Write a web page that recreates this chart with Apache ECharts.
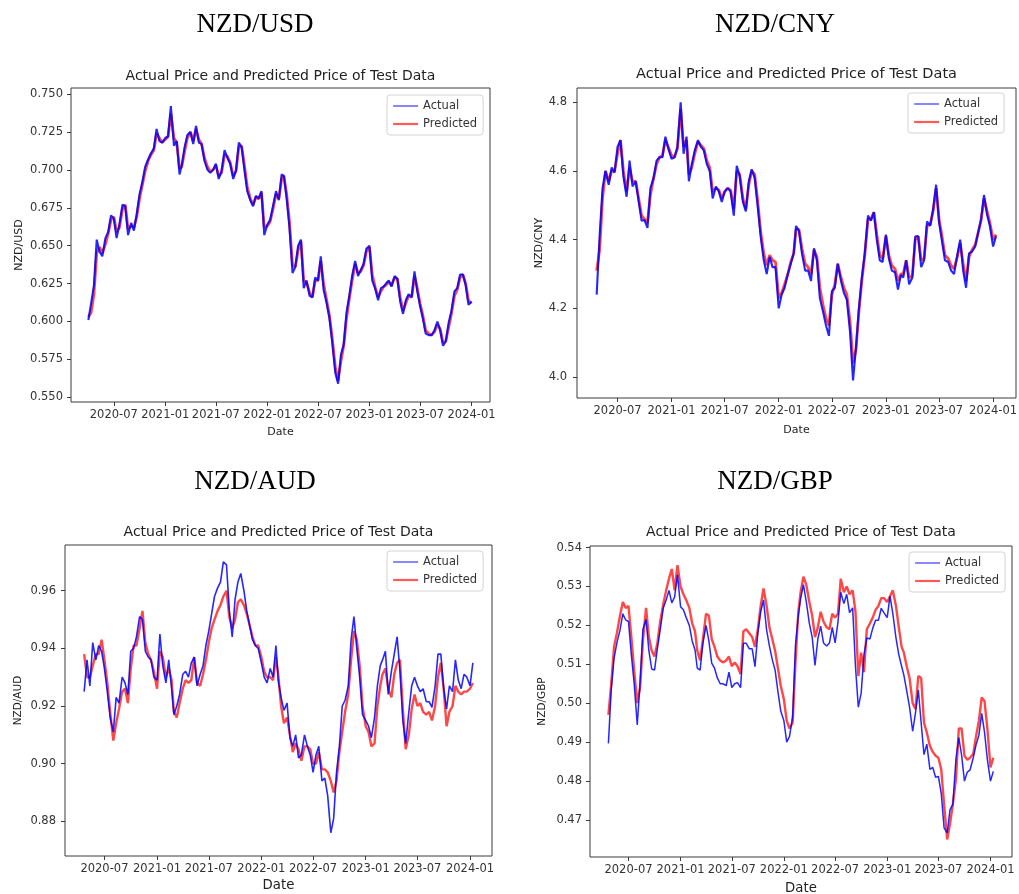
<!DOCTYPE html>
<html>
<head>
<meta charset="utf-8">
<title>NZD exchange rates - actual vs predicted</title>
<script src="https://cdn.jsdelivr.net/npm/echarts@6/dist/echarts.min.js"></script>
<style>
  html, body { margin: 0; padding: 0; background: #fff; }
  #chart { width: 1019px; height: 894px; }
</style>
</head>
<body>
<div id="chart"></div>
<script>
// sample dates (three per month), shared by all four panels
var dates = [
  '2020-04-01','2020-04-11','2020-04-21','2020-05-01','2020-05-11','2020-05-21','2020-06-01','2020-06-11','2020-06-21',
  '2020-07-01','2020-07-11','2020-07-21','2020-08-01','2020-08-11','2020-08-21','2020-09-01','2020-09-11','2020-09-21',
  '2020-10-01','2020-10-11','2020-10-21','2020-11-01','2020-11-11','2020-11-21','2020-12-01','2020-12-11','2020-12-21',
  '2021-01-01','2021-01-11','2021-01-21','2021-02-01','2021-02-11','2021-02-21','2021-03-01','2021-03-11','2021-03-21',
  '2021-04-01','2021-04-11','2021-04-21','2021-05-01','2021-05-11','2021-05-21','2021-06-01','2021-06-11','2021-06-21',
  '2021-07-01','2021-07-11','2021-07-21','2021-08-01','2021-08-11','2021-08-21','2021-09-01','2021-09-11','2021-09-21',
  '2021-10-01','2021-10-11','2021-10-21','2021-11-01','2021-11-11','2021-11-21','2021-12-01','2021-12-11','2021-12-21',
  '2022-01-01','2022-01-11','2022-01-21','2022-02-01','2022-02-11','2022-02-21','2022-03-01','2022-03-11','2022-03-21',
  '2022-04-01','2022-04-11','2022-04-21','2022-05-01','2022-05-11','2022-05-21','2022-06-01','2022-06-11','2022-06-21',
  '2022-07-01','2022-07-11','2022-07-21','2022-08-01','2022-08-11','2022-08-21','2022-09-01','2022-09-11','2022-09-21',
  '2022-10-01','2022-10-11','2022-10-21','2022-11-01','2022-11-11','2022-11-21','2022-12-01','2022-12-11','2022-12-21',
  '2023-01-01','2023-01-11','2023-01-21','2023-02-01','2023-02-11','2023-02-21','2023-03-01','2023-03-11','2023-03-21',
  '2023-04-01','2023-04-11','2023-04-21','2023-05-01','2023-05-11','2023-05-21','2023-06-01','2023-06-11','2023-06-21',
  '2023-07-01','2023-07-11','2023-07-21','2023-08-01','2023-08-11','2023-08-21','2023-09-01','2023-09-11','2023-09-21',
  '2023-10-01','2023-10-11','2023-10-21','2023-11-01','2023-11-11','2023-11-21','2023-12-01','2023-12-11','2023-12-21',
  '2024-01-01','2024-01-11'
];

var xTicks = ['2020-07-01','2021-01-01','2021-07-01','2022-01-01','2022-07-01','2023-01-01','2023-07-01','2024-01-01'];

// NZD/USD
var usdTicks = [0.550, 0.575, 0.600, 0.625, 0.650, 0.675, 0.700, 0.725, 0.750];
var usdActual = [
  0.601, 0.612, 0.624, 0.654, 0.646, 0.643, 0.655, 0.659, 0.670, 0.668,
  0.655, 0.664, 0.677, 0.676, 0.657, 0.665, 0.660, 0.671, 0.684, 0.692,
  0.702, 0.707, 0.711, 0.714, 0.727, 0.719, 0.718, 0.721, 0.722, 0.742,
  0.716, 0.719, 0.697, 0.703, 0.715, 0.723, 0.725, 0.717, 0.729, 0.718,
  0.717, 0.706, 0.700, 0.698, 0.700, 0.704, 0.694, 0.699, 0.713, 0.708,
  0.704, 0.694, 0.700, 0.718, 0.715, 0.700, 0.686, 0.680, 0.676, 0.683,
  0.681, 0.686, 0.657, 0.664, 0.667, 0.676, 0.686, 0.680, 0.697, 0.696,
  0.681, 0.662, 0.632, 0.636, 0.650, 0.654, 0.622, 0.627, 0.617, 0.616,
  0.629, 0.627, 0.643, 0.621, 0.612, 0.602, 0.586, 0.566, 0.559, 0.578,
  0.585, 0.606, 0.617, 0.631, 0.640, 0.630, 0.634, 0.638, 0.648, 0.650,
  0.627, 0.622, 0.614, 0.622, 0.623, 0.625, 0.627, 0.623, 0.630, 0.628,
  0.613, 0.605, 0.614, 0.618, 0.616, 0.633, 0.620, 0.610, 0.602, 0.592,
  0.591, 0.591, 0.594, 0.600, 0.594, 0.584, 0.587, 0.599, 0.607, 0.620,
  0.622, 0.631, 0.631, 0.624, 0.611, 0.613, null
];
var usdPredicted = [
  0.603, 0.606, 0.618, 0.645, 0.649, 0.645, 0.651, 0.658, 0.667, 0.669,
  0.659, 0.662, 0.674, 0.677, 0.661, 0.663, 0.662, 0.669, 0.681, 0.690,
  0.699, 0.706, 0.710, 0.713, 0.724, 0.721, 0.718, 0.720, 0.722, 0.737,
  0.721, 0.718, 0.701, 0.702, 0.712, 0.721, 0.725, 0.719, 0.727, 0.720,
  0.717, 0.708, 0.702, 0.699, 0.700, 0.703, 0.696, 0.698, 0.710, 0.709,
  0.705, 0.696, 0.699, 0.715, 0.716, 0.703, 0.689, 0.681, 0.677, 0.682,
  0.681, 0.685, 0.662, 0.663, 0.666, 0.674, 0.684, 0.681, 0.694, 0.696,
  0.684, 0.666, 0.637, 0.636, 0.647, 0.653, 0.627, 0.626, 0.619, 0.616,
  0.627, 0.627, 0.640, 0.625, 0.614, 0.604, 0.589, 0.570, 0.561, 0.574,
  0.584, 0.602, 0.615, 0.628, 0.638, 0.632, 0.633, 0.637, 0.646, 0.649,
  0.631, 0.623, 0.616, 0.620, 0.623, 0.624, 0.626, 0.624, 0.629, 0.628,
  0.616, 0.607, 0.612, 0.617, 0.616, 0.630, 0.622, 0.612, 0.604, 0.594,
  0.592, 0.591, 0.593, 0.598, 0.595, 0.586, 0.587, 0.596, 0.605, 0.617,
  0.621, 0.629, 0.631, 0.625, 0.614, 0.612, null
];

// NZD/CNY
var cnyTicks = [4.0, 4.2, 4.4, 4.6, 4.8];
var cnyActual = [
  null, null, 4.24, 4.41, 4.55, 4.60, 4.56, 4.61, 4.595, 4.67,
  4.69, 4.584, 4.525, 4.63, 4.555, 4.57, 4.511, 4.455, 4.457, 4.434,
  4.55, 4.58, 4.63, 4.64, 4.64, 4.70, 4.665, 4.635, 4.64, 4.67,
  4.80, 4.65, 4.70, 4.57, 4.62, 4.66, 4.69, 4.67, 4.66, 4.62,
  4.60, 4.52, 4.555, 4.54, 4.51, 4.54, 4.55, 4.54, 4.47, 4.615,
  4.585, 4.51, 4.482, 4.57, 4.605, 4.58, 4.50, 4.405, 4.34, 4.30,
  4.35, 4.32, 4.32, 4.20, 4.24, 4.26, 4.30, 4.33, 4.36, 4.44,
  4.425, 4.36, 4.31, 4.31, 4.28, 4.375, 4.34, 4.23, 4.19, 4.15,
  4.12, 4.25, 4.26, 4.33, 4.28, 4.245, 4.225, 4.13, 3.99, 4.085,
  4.20, 4.29, 4.36, 4.47, 4.455, 4.48, 4.40, 4.34, 4.335, 4.415,
  4.345, 4.31, 4.305, 4.255, 4.297, 4.29, 4.34, 4.27, 4.29, 4.41,
  4.41, 4.32, 4.34, 4.453, 4.44, 4.49, 4.56, 4.45, 4.395, 4.34,
  4.335, 4.31, 4.30, 4.355, 4.40, 4.31, 4.26, 4.36, 4.365, 4.38,
  4.42, 4.46, 4.53, 4.475, 4.44, 4.38, 4.41
];
var cnyPredicted = [
  null, null, 4.31, 4.37, 4.52, 4.60, 4.57, 4.60, 4.60, 4.65,
  4.69, 4.60, 4.54, 4.61, 4.57, 4.57, 4.52, 4.47, 4.46, 4.45,
  4.53, 4.58, 4.62, 4.64, 4.645, 4.69, 4.67, 4.645, 4.64, 4.665,
  4.78, 4.67, 4.69, 4.59, 4.61, 4.65, 4.685, 4.675, 4.665, 4.63,
  4.61, 4.54, 4.55, 4.545, 4.52, 4.54, 4.55, 4.545, 4.49, 4.60,
  4.59, 4.52, 4.49, 4.56, 4.60, 4.59, 4.515, 4.42, 4.36, 4.325,
  4.355, 4.34, 4.335, 4.23, 4.245, 4.27, 4.30, 4.335, 4.36, 4.43,
  4.43, 4.375, 4.33, 4.32, 4.30, 4.37, 4.35, 4.26, 4.21, 4.17,
  4.15, 4.24, 4.27, 4.33, 4.29, 4.26, 4.24, 4.16, 4.04, 4.08,
  4.19, 4.28, 4.355, 4.46, 4.46, 4.48, 4.415, 4.355, 4.345, 4.41,
  4.355, 4.325, 4.315, 4.28, 4.30, 4.30, 4.34, 4.29, 4.295, 4.40,
  4.41, 4.34, 4.345, 4.44, 4.445, 4.485, 4.55, 4.46, 4.41, 4.355,
  4.345, 4.325, 4.315, 4.35, 4.39, 4.33, 4.28, 4.35, 4.37, 4.385,
  4.42, 4.455, 4.52, 4.485, 4.45, 4.40, 4.415
];

// NZD/AUD
var audTicks = [0.88, 0.90, 0.92, 0.94, 0.96];
var audActual = [
  null, null, 0.925, 0.936, 0.927, 0.942, 0.936, 0.941, 0.939, 0.933,
  0.925, 0.916, 0.911, 0.923, 0.921, 0.930, 0.928, 0.924, 0.939, 0.940,
  0.944, 0.951, 0.950, 0.939, 0.937, 0.936, 0.930, 0.929, 0.945, 0.934,
  0.928, 0.936, 0.926, 0.917, 0.920, 0.924, 0.931, 0.932, 0.930, 0.935,
  0.937, 0.927, 0.931, 0.934, 0.941, 0.946, 0.952, 0.958, 0.961, 0.963,
  0.970, 0.969, 0.953, 0.944, 0.957, 0.963, 0.966, 0.960, 0.953, 0.948,
  0.943, 0.941, 0.940, 0.935, 0.930, 0.928, 0.933, 0.930, 0.941, 0.929,
  0.923, 0.9185, 0.921, 0.909, 0.906, 0.910, 0.902, 0.903, 0.910, 0.906,
  0.903, 0.897, 0.903, 0.906, 0.894, 0.895, 0.889, 0.876, 0.881, 0.897,
  0.906, 0.920, 0.922, 0.927, 0.943, 0.951, 0.940, 0.930, 0.917, 0.915,
  0.913, 0.909, 0.916, 0.927, 0.934, 0.936, 0.939, 0.924, 0.932, 0.938,
  0.944, 0.932, 0.915, 0.907, 0.918, 0.927, 0.930, 0.927, 0.925, 0.926,
  0.9215, 0.9215, 0.9195, 0.927, 0.938, 0.938, 0.926, 0.919, 0.927, 0.925,
  0.936, 0.929, 0.926, 0.931, 0.930, 0.927, 0.935
];
var audPredicted = [
  null, null, 0.938, 0.930, 0.930, 0.934, 0.938, 0.938, 0.943, 0.936,
  0.928, 0.918, 0.908, 0.914, 0.919, 0.925, 0.926, 0.921, 0.933, 0.941,
  0.941, 0.947, 0.953, 0.942, 0.938, 0.936, 0.932, 0.926, 0.939, 0.937,
  0.930, 0.933, 0.929, 0.918, 0.916, 0.921, 0.926, 0.929, 0.928, 0.929,
  0.937, 0.928, 0.927, 0.931, 0.936, 0.942, 0.947, 0.950, 0.953, 0.955,
  0.958, 0.960, 0.951, 0.947, 0.950, 0.956, 0.957, 0.955, 0.952, 0.948,
  0.944, 0.941, 0.941, 0.937, 0.932, 0.930, 0.930, 0.929, 0.937, 0.931,
  0.920, 0.914, 0.916, 0.910, 0.904, 0.907, 0.905, 0.901, 0.906, 0.906,
  0.905, 0.900, 0.900, 0.904, 0.898, 0.898, 0.897, 0.894, 0.890, 0.894,
  0.904, 0.911, 0.918, 0.924, 0.936, 0.946, 0.943, 0.934, 0.920, 0.913,
  0.911, 0.906, 0.907, 0.920, 0.927, 0.931, 0.933, 0.926, 0.923, 0.931,
  0.935, 0.936, 0.919, 0.905, 0.910, 0.919, 0.924, 0.920, 0.921, 0.918,
  0.917, 0.918, 0.915, 0.920, 0.930, 0.935, 0.926, 0.913, 0.918, 0.920,
  0.927, 0.925, 0.924, 0.925, 0.925, 0.926, 0.928
];

// NZD/GBP
var gbpTicks = [0.47, 0.48, 0.49, 0.50, 0.51, 0.52, 0.53, 0.54];
var gbpActual = [
  null, null, 0.4897, 0.5034, 0.5115, 0.5155, 0.5188, 0.523, 0.5214, 0.521,
  0.5125, 0.5051, 0.4944, 0.5055, 0.519, 0.5215, 0.5135, 0.5088, 0.5085, 0.514,
  0.5188, 0.5245, 0.5265, 0.529, 0.5258, 0.5273, 0.533, 0.5248, 0.524, 0.522,
  0.520, 0.516, 0.5137, 0.509, 0.5085, 0.5154, 0.520, 0.516, 0.5103, 0.509,
  0.5065, 0.505, 0.505, 0.5045, 0.508, 0.504, 0.505, 0.5053, 0.504, 0.5154,
  0.5154, 0.514, 0.514, 0.5094, 0.518, 0.5235, 0.5265, 0.5188, 0.5147, 0.5112,
  0.5085, 0.503, 0.498, 0.4955, 0.490, 0.4915, 0.4966, 0.515, 0.5225, 0.5268,
  0.5305, 0.5262, 0.5205, 0.517, 0.5097, 0.5165, 0.5198, 0.5155, 0.5147, 0.5155,
  0.5195, 0.5155, 0.5208, 0.5285, 0.5256, 0.528, 0.5233, 0.5245, 0.5094, 0.499,
  0.5026, 0.5125, 0.5168, 0.5165, 0.5193, 0.5213, 0.5213, 0.5244, 0.5232, 0.522,
  0.5275, 0.523, 0.5168, 0.5125, 0.5095, 0.5072, 0.5032, 0.499, 0.4928, 0.4975,
  0.5034, 0.495, 0.4868, 0.4895, 0.483, 0.4835, 0.481, 0.4812, 0.4768, 0.468,
  0.4667, 0.4727, 0.474, 0.4858, 0.4912, 0.4866, 0.480, 0.4823, 0.4829, 0.486,
  0.4893, 0.4918, 0.4974, 0.4925, 0.4855, 0.480, 0.4825
];
var gbpPredicted = [
  null, null, 0.497, 0.505, 0.5145, 0.518, 0.5225, 0.526, 0.5245, 0.525,
  0.517, 0.5085, 0.500, 0.504, 0.516, 0.5245, 0.517, 0.5135, 0.512, 0.5155,
  0.521, 0.5255, 0.529, 0.532, 0.5345, 0.529, 0.5355, 0.530, 0.528, 0.5265,
  0.5245, 0.5205, 0.5185, 0.5135, 0.511, 0.5165, 0.523, 0.5225, 0.5165, 0.5145,
  0.512, 0.511, 0.5105, 0.511, 0.512, 0.5095, 0.5105, 0.5095, 0.5075, 0.5185,
  0.519, 0.518, 0.517, 0.5145, 0.519, 0.525, 0.5295, 0.525, 0.5195, 0.5165,
  0.5135, 0.509, 0.5045, 0.501, 0.4955, 0.4935, 0.495, 0.5105, 0.5235, 0.5285,
  0.5325, 0.5305, 0.526, 0.5225, 0.517, 0.5195, 0.5235, 0.521, 0.5195, 0.519,
  0.523, 0.522, 0.523, 0.532, 0.5285, 0.530, 0.528, 0.529, 0.5235, 0.507,
  0.513, 0.508, 0.519, 0.5205, 0.522, 0.524, 0.525, 0.527, 0.527, 0.526,
  0.5275, 0.529, 0.525, 0.5195, 0.5145, 0.513, 0.5095, 0.5065, 0.500, 0.4985,
  0.507, 0.5065, 0.495, 0.4925, 0.489, 0.4875, 0.4865, 0.486, 0.483, 0.474,
  0.465, 0.469, 0.474, 0.4805, 0.4935, 0.4935, 0.4865, 0.4855, 0.486, 0.487,
  0.4915, 0.4955, 0.5015, 0.5005, 0.4935, 0.4835, 0.486
];

var FONT = '"DejaVu Sans", sans-serif';
var parseDate = echarts.number.parseDate;

function ts(s) { return parseDate(s).getTime(); }

// [time, value] pairs for one series, skipping days without a value
function toPairs(vals) {
    var out = [];
    for (var k = 0; k < dates.length; k++) {
        if (vals[k] != null) out.push([ts(dates[k]), vals[k]]);
    }
    return out;
}

function fmtMonth(v) {
    var d = new Date(v);
    var m = d.getMonth() + 1;
    return d.getFullYear() + '-' + (m < 10 ? '0' + m : m);
}

var xTickValues = xTicks.map(ts);

var panels = [
    {name: 'NZD/USD', actual: usdActual, predicted: usdPredicted, ticks: usdTicks, digits: 3,
     grid: {left: 71, top: 88, width: 419, height: 314},
     xMin: '2020-01-30', xMax: '2024-03-07', yMin: 0.5469, yMax: 0.7540,
     head: [255, 25], sub: [280.5, 76], subSize: 14, legend: {left: 387, top: 95},
     yNameGap: 46, yNameSize: 11, yLabelMargin: 8, dateGap: 25, dateSize: 11,
     wA: 2.1, wP: 2.8},
    {name: 'NZD/CNY', actual: cnyActual, predicted: cnyPredicted, ticks: cnyTicks, digits: 1,
     grid: {left: 577, top: 88, width: 439, height: 310},
     xMin: '2020-02-14', xMax: '2024-03-19', yMin: 3.939, yMax: 4.8416,
     head: [775, 25], sub: [796.5, 74], subSize: 14.5, legend: {left: 908, top: 93},
     yNameGap: 31, yNameSize: 11, yLabelMargin: 10, dateGap: 27, dateSize: 11,
     wA: 2.1, wP: 2.8},
    {name: 'NZD/AUD', actual: audActual, predicted: audPredicted, ticks: audTicks, digits: 2,
     grid: {left: 65, top: 545, width: 427, height: 311},
     xMin: '2020-02-14', xMax: '2024-03-18', yMin: 0.86795, yMax: 0.97587,
     head: [255, 482], sub: [278.5, 532.5], subSize: 14, legend: {left: 387, top: 551},
     yNameGap: 41, yNameSize: 10.5, yLabelMargin: 9, dateGap: 23, dateSize: 13.3,
     wA: 1.6, wP: 2.4},
    {name: 'NZD/GBP', actual: gbpActual, predicted: gbpPredicted, ticks: gbpTicks, digits: 2,
     grid: {left: 590, top: 546, width: 422, height: 311},
     xMin: '2020-02-16', xMax: '2024-03-17', yMin: 0.4605, yMax: 0.5404,
     head: [775, 482], sub: [801, 532.5], subSize: 14, legend: {left: 909, top: 552},
     yNameGap: 42, yNameSize: 10.5, yLabelMargin: 8, dateGap: 25, dateSize: 13.3,
     wA: 1.5, wP: 2.4}
];

var grids = [], xAxes = [], yAxes = [], series = [], legends = [], texts = [];

panels.forEach(function (p, k) {
    grids.push({
        left: p.grid.left, top: p.grid.top, width: p.grid.width, height: p.grid.height,
        show: true, borderColor: '#3a3a3a', borderWidth: 1, outerBoundsMode: 'none'
    });
    xAxes.push({
        type: 'value', gridIndex: k, min: ts(p.xMin), max: ts(p.xMax),
        name: 'Date', nameLocation: 'middle', nameGap: p.dateGap,
        nameTextStyle: {fontSize: p.dateSize, color: '#222', fontFamily: FONT},
        axisLine: {show: false}, splitLine: {show: false},
        axisTick: {show: true, customValues: xTickValues, length: 4, lineStyle: {color: '#3a3a3a'}},
        axisLabel: {customValues: xTickValues, formatter: fmtMonth, hideOverlap: false,
                    fontSize: 11.5, color: '#333', fontFamily: FONT, margin: 7}
    });
    yAxes.push({
        type: 'value', gridIndex: k, min: p.yMin, max: p.yMax,
        name: p.name, nameLocation: 'middle', nameGap: p.yNameGap, nameRotate: 90,
        nameTextStyle: {fontSize: p.yNameSize, color: '#222', fontFamily: FONT},
        axisLine: {show: false}, splitLine: {show: false},
        axisTick: {show: true, customValues: p.ticks, length: 4, lineStyle: {color: '#3a3a3a'}},
        axisLabel: {customValues: p.ticks, fontSize: 11.5, color: '#333', fontFamily: FONT,
                    margin: p.yLabelMargin,
                    formatter: (function (d) { return function (v) { return Number(v).toFixed(d); }; })(p.digits)}
    });
    series.push({
        name: 'Predicted', type: 'line', xAxisIndex: k, yAxisIndex: k,
        data: toPairs(p.predicted), symbol: 'none', showSymbol: false,
        lineStyle: {color: 'rgba(255,0,0,0.72)', width: p.wP}, itemStyle: {color: '#ff4a4a'},
        z: 2, silent: true
    });
    series.push({
        name: 'Actual', type: 'line', xAxisIndex: k, yAxisIndex: k,
        data: toPairs(p.actual), symbol: 'none', showSymbol: false,
        lineStyle: {color: 'rgba(0,0,255,0.85)', width: p.wA}, itemStyle: {color: '#5c5cff'},
        z: 3, silent: true
    });
    legends.push({
        left: p.legend.left, top: p.legend.top, orient: 'vertical', selectedMode: false,
        itemWidth: 25, itemHeight: 14, itemGap: 4, padding: [4, 6, 4, 5],
        backgroundColor: 'rgba(255,255,255,0.85)', borderColor: '#d4d4d4', borderWidth: 1, borderRadius: 3,
        textStyle: {fontSize: 11.5, color: '#333', fontFamily: FONT, lineHeight: 14},
        itemStyle: {color: 'rgba(0,0,0,0)', borderWidth: 0, opacity: 0},
        data: [
            {name: 'Actual', lineStyle: {color: '#6a6aff', width: 1.6},
             itemStyle: {color: 'rgba(0,0,0,0)', borderWidth: 0, opacity: 0}},
            {name: 'Predicted', lineStyle: {color: '#ff5a5a', width: 2.2},
             itemStyle: {color: 'rgba(0,0,0,0)', borderWidth: 0, opacity: 0}}
        ]
    });
    texts.push({
        type: 'text', x: p.head[0], y: p.head[1], silent: true,
        style: {text: p.name, fill: '#000', fontSize: 27, fontFamily: '"Liberation Serif", serif',
                align: 'center', verticalAlign: 'middle'}
    });
    texts.push({
        type: 'text', x: p.sub[0], y: p.sub[1], silent: true,
        style: {text: 'Actual Price and Predicted Price of Test Data', fill: '#222',
                fontSize: p.subSize, fontFamily: FONT, align: 'center', verticalAlign: 'middle'}
    });
});

var chart = echarts.init(document.getElementById('chart'), null, {renderer: 'canvas'});
chart.setOption({
    animation: false,
    backgroundColor: '#fff',
    textStyle: {fontFamily: FONT},
    grid: grids,
    xAxis: xAxes,
    yAxis: yAxes,
    legend: legends,
    series: series,
    graphic: texts
});
</script>
</body>
</html>
